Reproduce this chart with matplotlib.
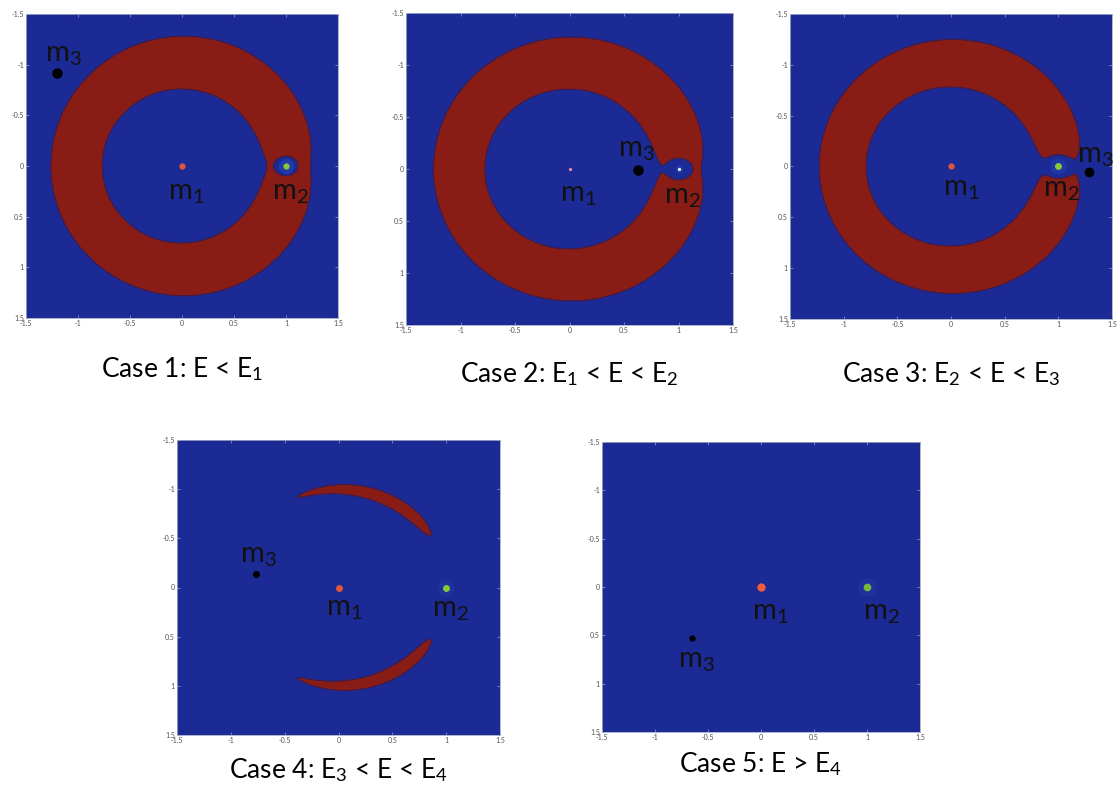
import numpy as np
import matplotlib
matplotlib.use("Agg")
import matplotlib.pyplot as plt

# ---------------- data ----------------
mass_ratio = 0.012                      # m2 / (m1 + m2)
case_titles = ["Case 1: E < E$_1$", "Case 2: E$_1$ < E < E$_2$",
               "Case 3: E$_2$ < E < E$_3$", "Case 4: E$_3$ < E < E$_4$",
               "Case 5: E > E$_4$"]
omega_levels = [1.605, 1.597, 1.585, 1.5058, 1.490]   # zero-velocity level per case
m1_x, m1_y = 0.0, 0.0
m2_x, m2_y = 1.0, 0.0
m3_x = [-1.20, 0.63, 1.29, -0.77, -0.65]
m3_y = [-0.92, 0.01, 0.05, -0.14, 0.53]
tick_values = [-1.5, -1, -0.5, 0, 0.5, 1, 1.5]
tick_labels = ["-1.5", "-1", "-0.5", "0", "0.5", "1", "1.5"]

# ---------------- style / layout ----------------
W, H = 1120, 797
plt.rcParams['font.family'] = ['Lato', 'DejaVu Sans']
plt.rcParams['mathtext.fontset'] = 'custom'
plt.rcParams['mathtext.rm'] = 'Lato'
plt.rcParams['mathtext.it'] = 'Lato:italic'
plt.rcParams['mathtext.bf'] = 'Lato:bold'

BLUE = '#1b2a94'
RED = '#8a1c16'
EDGE = '#4a1a3c'
M1C = ['#e2553c', '#e48aa0', '#e2553c', '#e2553c', '#ef5a40']
M2C = ['#86c83a', '#d8f0d0', '#86c83a', '#86c83a', '#7ab83a']
m1_ms = [4.5, 2.4, 4.5, 5.0, 6.0]
m2_ms = [4.5, 2.4, 5.0, 5.0, 5.5]
m3_ms = [7.5, 7.5, 7.0, 5.0, 4.5]
halo_alpha = [0.5, 0.45, 0.4, 0.25, 0.25]

# axes rectangles in pixels: left, top, right, bottom
rects = [(26, 14, 338, 318), (406, 13, 733, 325), (790, 14, 1112, 319),
         (177, 440, 500, 735), (602, 442, 920, 732)]
# label offsets in pixels (dx, dy downward) relative to markers
m1_off = [(-14, 33), (-10, 32), (-8, 29), (-13, 28), (-9, 33)]
m2_off = [(-14, 33), (-14, 34), (-15, 30), (-14, 29), (-4, 33)]
m3_off = [(-12, -11), (-20, -14), (-12, -9), (-16, -11), (-14, 29)]
caption_y = [377, 382, 382, 778, 772]

fig = plt.figure(figsize=(W / 100, H / 100), dpi=100)
fig.patch.set_facecolor('white')

xs = np.linspace(-1.5, 1.5, 901)
X, Y = np.meshgrid(xs, xs)
r1 = np.maximum(np.hypot(X - m1_x, Y - m1_y), 1e-4)
r2 = np.maximum(np.hypot(X - m2_x, Y - m2_y), 1e-4)
mu = mass_ratio
Omega = (1 - mu) * (r1 ** 2 / 2 + 1 / r1) + mu * (r2 ** 2 / 2 + 1 / r2)
Omega = np.minimum(Omega, 10)

px = 0.72  # points per pixel at dpi 100

for i in range(5):
    l, t, r, b = rects[i]
    ax = fig.add_axes([l / W, 1 - b / H, (r - l) / W, (b - t) / H])
    lev = omega_levels[i]
    ax.contourf(X, Y, Omega, levels=[0, lev, 11], colors=[RED, BLUE])
    if lev > Omega.min():
        ax.contour(X, Y, Omega, levels=[lev], colors=EDGE, linewidths=0.8)
    ax.set_xlim(-1.5, 1.5)
    ax.set_ylim(1.5, -1.5)
    ax.set_xticks(tick_values)
    ax.set_xticklabels(tick_labels)
    ax.set_yticks(tick_values)
    ax.set_yticklabels(tick_labels)
    ax.tick_params(direction='in', length=2.5, width=0.5, labelsize=5,
                   labelcolor='#505050', color='#9aa0c0', top=True, right=True, pad=1.5)
    for s in ax.spines.values():
        s.set_color('#a0a8c8')
        s.set_linewidth(0.6)

    # bodies
    ax.plot([m1_x], [m1_y], 'o', ms=m1_ms[i], color=M1C[i], mec='none', zorder=5)
    ax.plot([m2_x], [m2_y], 'o', ms=m2_ms[i] * 2.4, color='#2a48c0', mec='none',
            alpha=halo_alpha[i], zorder=4)
    ax.plot([m2_x], [m2_y], 'o', ms=m2_ms[i], color=M2C[i], mec='none', zorder=5)
    ax.plot([m3_x[i]], [m3_y[i]], 'o', ms=m3_ms[i], color='black', mec='none', zorder=5)

    for (lx, ly, lab, off) in [(m1_x, m1_y, "m$_1$", m1_off[i]),
                               (m2_x, m2_y, "m$_2$", m2_off[i]),
                               (m3_x[i], m3_y[i], "m$_3$", m3_off[i])]:
        ax.annotate(lab, (lx, ly), xytext=(off[0] * px, -off[1] * px),
                    textcoords='offset points', ha='left', va='baseline',
                    fontsize=21, color='#111111', zorder=6)

    fig.text((l + r) / 2 / W, 1 - caption_y[i] / H, case_titles[i],
             ha='center', va='baseline', fontsize=19, color='black')

fig.savefig('out.png', dpi=100, facecolor='white')
